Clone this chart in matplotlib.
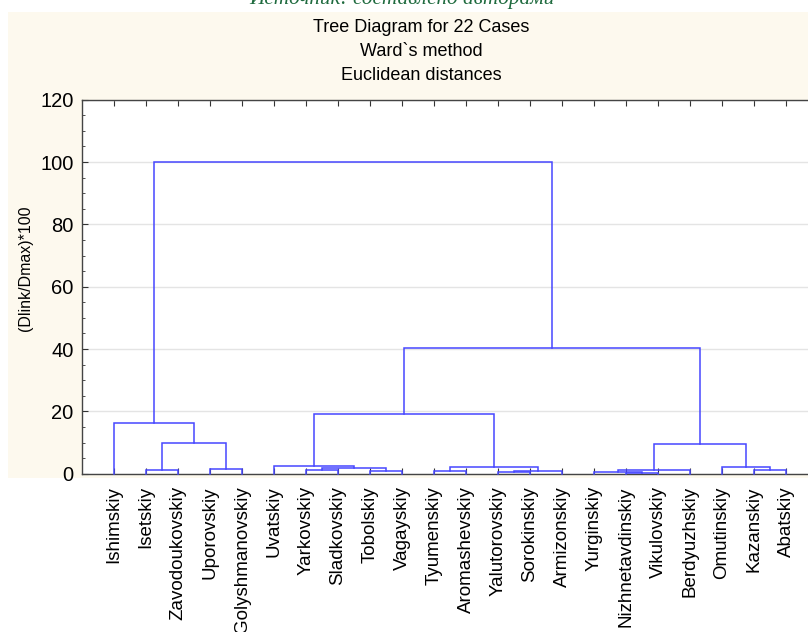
import matplotlib.pyplot as plt
from matplotlib.patches import Rectangle
from matplotlib.ticker import MultipleLocator

# leaves in the order they appear along the x axis
labels = ['Ishimskiy', 'Isetskiy', 'Zavodoukovskiy', 'Uporovskiy', 'Golyshmanovskiy',
          'Uvatskiy', 'Yarkovskiy', 'Sladkovskiy', 'Tobolskiy', 'Vagayskiy',
          'Tyumenskiy', 'Aromashevskiy', 'Yalutorovskiy', 'Sorokinskiy', 'Armizonskiy',
          'Yurginskiy', 'Nizhnetavdinskiy', 'Vikulovskiy', 'Berdyuzhskiy', 'Omutinskiy',
          'Kazanskiy', 'Abatskiy']

# linkage steps: (left node, right node, height); new clusters get ids 22, 23, ...
merge_left = [16, 12, 15, 8, 10, 23, 1, 6, 20, 24, 3, 29, 19, 26, 5, 31, 28, 0, 36, 40, 39]
merge_right = [17, 13, 22, 9, 11, 14, 2, 7, 21, 18, 4, 25, 30, 27, 33, 34, 32, 38, 35, 37, 41]
merge_height = [0.3, 0.6, 0.7, 0.8, 0.8, 1.0, 1.2, 1.2, 1.2, 1.2, 1.4, 1.8, 2.3, 2.3, 2.6,
                9.5, 9.8, 16.4, 19.1, 40.3, 100.0]

n = len(labels)
line_col = '#4747ff'

fig = plt.figure(figsize=(8.08, 6.32), dpi=100)
fig.patch.set_facecolor('white')
fig.patches.append(Rectangle((8 / 808, 1 - 478 / 632), 800 / 808, 466 / 632,
                             transform=fig.transFigure, facecolor='#fdf9ee',
                             edgecolor='none', zorder=-5))

ax = fig.add_axes([82 / 808, 1 - 473.7 / 632, 736 / 808, 374 / 632])
ax.set_zorder(2)
ax.set_facecolor('white')

xpos = {i: float(i) for i in range(n)}
ypos = {i: 0.0 for i in range(n)}
for k, (a, b, h) in enumerate(zip(merge_left, merge_right, merge_height)):
    xa, xb = xpos[a], xpos[b]
    ax.plot([xa, xa, xb, xb], [ypos[a], h, h, ypos[b]], color=line_col, lw=1.1,
            solid_joinstyle='miter', zorder=3, clip_on=False)
    xpos[n + k] = (xa + xb) / 2
    ypos[n + k] = h

ax.set_xlim(-1, n)
ax.set_ylim(0, 120)
ax.yaxis.set_major_locator(MultipleLocator(20))
ax.yaxis.set_minor_locator(MultipleLocator(5))
ax.set_xticks(range(n))
ax.set_xticklabels(labels, rotation=90, fontsize=13.5, family='Liberation Sans')
ax.tick_params(axis='x', direction='in', length=4, top=True, labeltop=False, pad=9,
               color='#333333')
ax.tick_params(axis='y', which='major', direction='in', length=4, labelsize=14.5,
               pad=6, color='#333333')
ax.tick_params(axis='y', which='minor', direction='in', length=2.5, color='#333333')
for lab in ax.get_yticklabels():
    lab.set_family('Liberation Sans')
ax.grid(axis='y', color='#e4e4e4', lw=1, zorder=0)
ax.set_axisbelow(True)
for s in ax.spines.values():
    s.set_color('#444444')
    s.set_linewidth(1.0)
ax.set_ylabel('(Dlink/Dmax)*100', fontsize=11.5, family='Liberation Sans')
ax.yaxis.set_label_coords(-49 / 736, 0.55)

for txt, ypix in [('Tree Diagram for 22 Cases', 27), ('Ward`s method', 51),
                  ('Euclidean distances', 76)]:
    fig.text(421 / 808, 1 - ypix / 632, txt, ha='center', va='center',
             fontsize=13, family='Liberation Sans')
fig.text(402 / 808, 1 - 4 / 632, 'Источник: составлено авторами', ha='center',
         va='baseline', fontsize=15.3, style='italic', family='Liberation Serif',
         color='#1f6b3f')

fig.savefig('out.png', dpi=100, facecolor=fig.get_facecolor())
